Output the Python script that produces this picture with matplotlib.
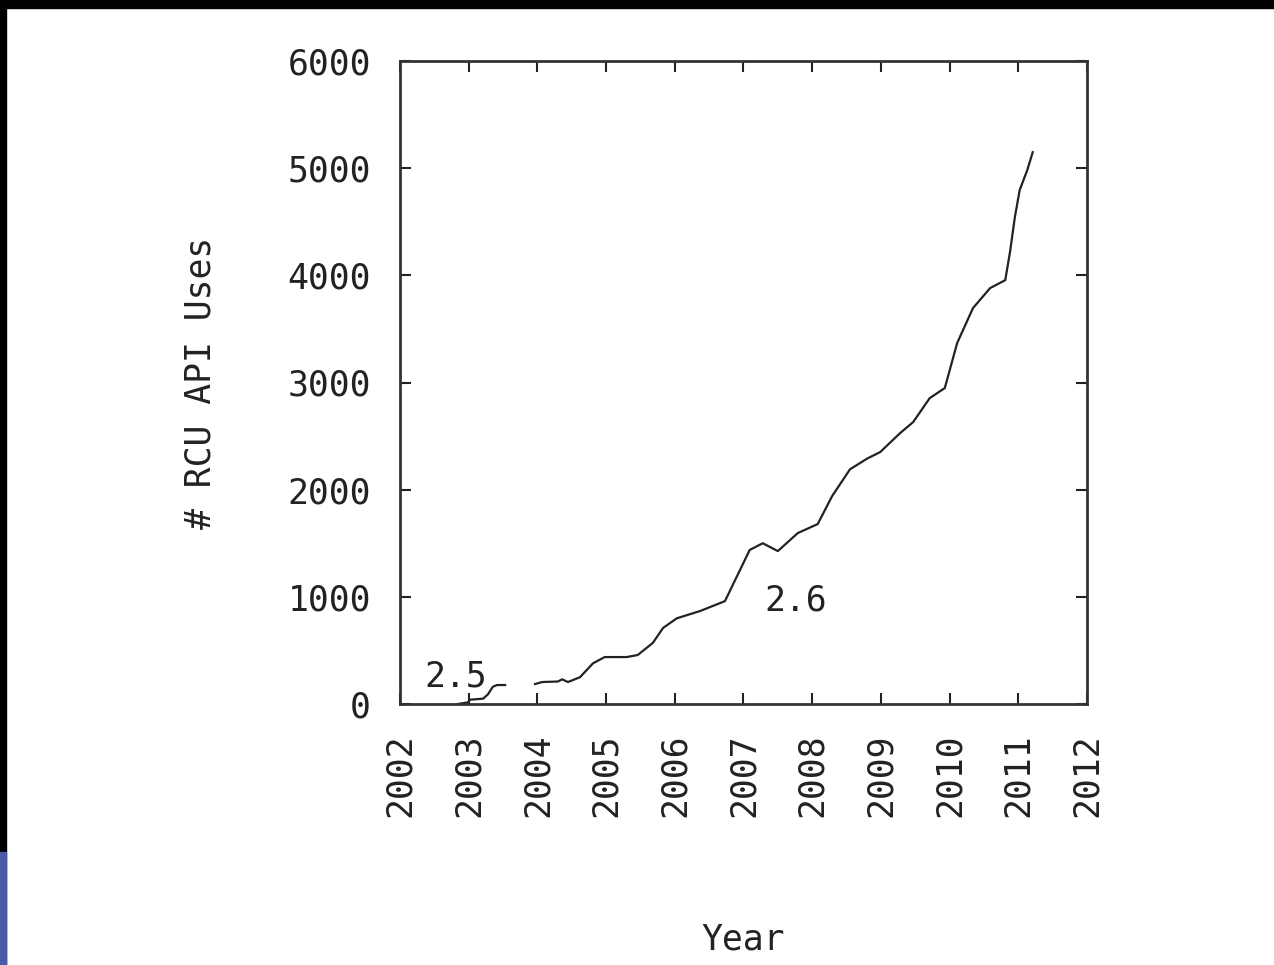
import matplotlib
matplotlib.use("Agg")
import matplotlib.pyplot as plt
from matplotlib.patches import Rectangle

# -------------------------------------------------------------
# Data
# -------------------------------------------------------------
years_25 = [2002.84, 2002.99, 2003.02, 2003.21, 2003.28, 2003.35, 2003.41, 2003.53]
uses_25 = [0, 15, 40, 50, 90, 160, 177, 177]

years_26 = [2003.965, 2004.07, 2004.30, 2004.36, 2004.445, 2004.62, 2004.81, 2004.98,
            2005.30, 2005.46, 2005.68, 2005.83, 2006.03, 2006.37, 2006.73, 2007.09,
            2007.28, 2007.50, 2007.79, 2008.08, 2008.29, 2008.55, 2008.80, 2008.99,
            2009.28, 2009.47, 2009.71, 2009.93, 2010.11, 2010.34, 2010.59, 2010.81,
            2010.88, 2010.95, 2011.02, 2011.13, 2011.21]
uses_26 = [186, 205, 210, 230, 205, 250, 380, 438,
           438, 457, 570, 710, 800, 868, 960, 1437,
           1500, 1427, 1595, 1679, 1940, 2190, 2290, 2351,
           2528, 2631, 2854, 2948, 3368, 3694, 3881, 3955,
           4220, 4543, 4795, 4981, 5149]

x_ticks = list(range(2002, 2013))
y_ticks = [0, 1000, 2000, 3000, 4000, 5000, 6000]

# -------------------------------------------------------------
# Figur
# -------------------------------------------------------------
plt.rcParams['font.family'] = ['DejaVu Sans Mono', 'DejaVu Sans']
W, H = 1274, 965
FS = 25
fig = plt.figure(figsize=(W / 100, H / 100), dpi=100)
fig.patch.set_facecolor('white')

# black slide borders top and left, blue scrap bottom left
fig.patches.append(Rectangle((0, 1 - 8 / H), 1, 8 / H, transform=fig.transFigure,
                             color='black', zorder=0))
fig.patches.append(Rectangle((0, 0), 6 / W, 1, transform=fig.transFigure,
                             color='black', zorder=0))
fig.patches.append(Rectangle((0, 0), 6 / W, 113 / H, transform=fig.transFigure,
                             color='#4a5aa8', zorder=1))

ax = fig.add_axes([400 / W, 1 - 704 / H, 687 / W, 643 / H])
ax.plot(years_25, uses_25, color='#222222', lw=1.6)
ax.plot(years_26, uses_26, color='#222222', lw=1.6)

ax.text(2002.36, 252, '2.5', fontsize=FS, va='center', ha='left', color='#222222')
ax.text(2007.31, 970, '2.6', fontsize=FS, va='center', ha='left', color='#222222')

ax.set_xlim(2002, 2012)
ax.set_ylim(0, 6000)
ax.set_xticks(x_ticks)
ax.set_xticklabels([str(y) for y in x_ticks], rotation=90)
ax.set_yticks(y_ticks)

ax.tick_params(direction='in', length=8, width=1.5, top=True, right=True,
               labelsize=FS, colors='#222222', pad=21)
for s in ax.spines.values():
    s.set_linewidth(2)
    s.set_color('#333333')

ax.set_xlabel('Year', fontsize=FS, color='#222222', labelpad=76)
ax.set_ylabel('# RCU API Uses', fontsize=FS, color='#222222', labelpad=50)

fig.savefig('out.png', dpi=100)
